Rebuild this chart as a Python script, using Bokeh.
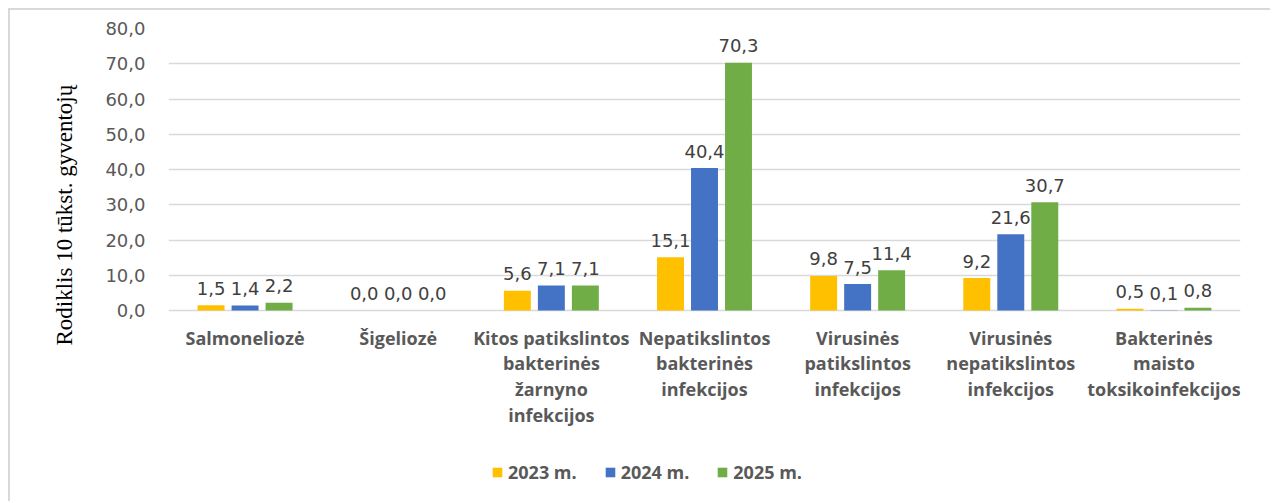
from bokeh.plotting import figure
from bokeh.models import FactorRange, Range1d, ColumnDataSource, Legend, LegendItem, CustomJSTickFormatter, Title
from bokeh.transform import dodge
from bokeh.core.properties import value
from bokeh.embed import file_html
from bokeh.resources import INLINE

categories = [
    "Salmoneliozė",
    "Šigeliozė",
    "Kitos patikslintos\nbakterinės\nžarnyno\ninfekcijos",
    "Nepatikslintos\nbakterinės\ninfekcijos",
    "Virusinės\npatikslintos\ninfekcijos",
    "Virusinės\nnepatikslintos\ninfekcijos",
    "Bakterinės\nmaisto\ntoksikoinfekcijos",
]
series_names = ["2023 m.", "2024 m.", "2025 m."]
v2023 = [1.5, 0.0, 5.6, 15.1, 9.8, 9.2, 0.5]
v2024 = [1.4, 0.0, 7.1, 40.4, 7.5, 21.6, 0.1]
v2025 = [2.2, 0.0, 7.1, 70.3, 11.4, 30.7, 0.8]
colors = ["#FFC000", "#4472C4", "#70AD47"]
y_ticks = [0, 10, 20, 30, 40, 50, 60, 70, 80]
y_title = "Rodiklis 10 tūkst. gyventojų"

def fmt(v):
    return f"{v:.1f}".replace(".", ",")

# layout (pixels)
W, H = 1262, 493          # content box, after 8px page offset + 2px border
top_b, bot_b = 18, 3
left_b, right_b = 158, 32
plot_h_px = 282           # height of the 0..80 value band
frame_h = H - top_b - bot_b
px_per_unit = plot_h_px / 80.0
y_start = -(frame_h - plot_h_px) / px_per_unit

src = ColumnDataSource(dict(
    cat=categories,
    a=v2023, b=v2024, c=v2025,
    la=[fmt(v) for v in v2023], lb=[fmt(v) for v in v2024], lc=[fmt(v) for v in v2025],
    zero=[0.0] * len(categories),
))

p = figure(
    x_range=FactorRange(*categories), y_range=Range1d(y_start, 80),
    width=W, height=H, output_backend="svg", toolbar_location=None,
    min_border_left=left_b, min_border_right=right_b, min_border_top=top_b, min_border_bottom=bot_b,
)
p.styles = {"margin-left": "8px", "margin-top": "8px",
            "border-top": "2px solid #d9d9d9", "border-left": "2px solid #d9d9d9"}
p.outline_line_color = None
p.background_fill_color = "white"
p.border_fill_color = "white"

offs = [-0.222, 0.0, 0.222]
cols = ["a", "b", "c"]
labs = ["la", "lb", "lc"]
renderers = []
for off, col, lab, color in zip(offs, cols, labs, colors):
    r = p.vbar(x=dodge("cat", off, range=p.x_range), top=col, width=0.176, source=src,
               fill_color=color, line_color=None)
    renderers.append(r)
    p.text(x=dodge("cat", off, range=p.x_range), y=col, text=lab, source=src,
           text_align="center", text_baseline="alphabetic", y_offset=-17,
           text_font=value("DejaVu Sans"), text_font_size="18px", text_color="#404040")

# category labels under the value band
p.text(x="cat", y="zero", text="cat", source=src, text_align="center", text_baseline="top",
       y_offset=15, text_font=value("Open Sans"), text_font_size="18px", text_font_style="bold",
       text_color="#595959", text_line_height=1.08)

# y axis
p.yaxis.ticker = y_ticks
p.yaxis.formatter = CustomJSTickFormatter(code="return tick.toFixed(1).replace('.', ',');")
p.yaxis.axis_line_color = None
p.yaxis.major_tick_line_color = None
p.yaxis.minor_tick_line_color = None
p.yaxis.major_label_standoff = 17
p.yaxis.major_label_text_font = "DejaVu Sans"
p.yaxis.major_label_text_font_size = "18px"
p.yaxis.major_label_text_color = "#595959"

ytitle = Title(text=y_title, align="left", offset=155, standoff=52,
               text_font="Liberation Serif", text_font_size="23px",
               text_font_style="normal", text_color="#000000")
p.add_layout(ytitle, "left")

p.xaxis.visible = False
p.xgrid.grid_line_color = None
p.ygrid.grid_line_color = "#d9d9d9"
p.ygrid.grid_line_width = 1.5

legend = Legend(
    items=[LegendItem(label=n, renderers=[r]) for n, r in zip(series_names, renderers)],
    orientation="horizontal", location=(323, 16),
    glyph_width=12, glyph_height=12, label_standoff=5, spacing=27,
    label_text_font="Open Sans", label_text_font_size="18px", label_text_font_style="bold",
    label_text_color="#595959", label_height=16, padding=0, margin=0,
    border_line_color=None, background_fill_alpha=0,
)
p.add_layout(legend, "center")

open("out.html", "w").write(file_html(p, INLINE))
